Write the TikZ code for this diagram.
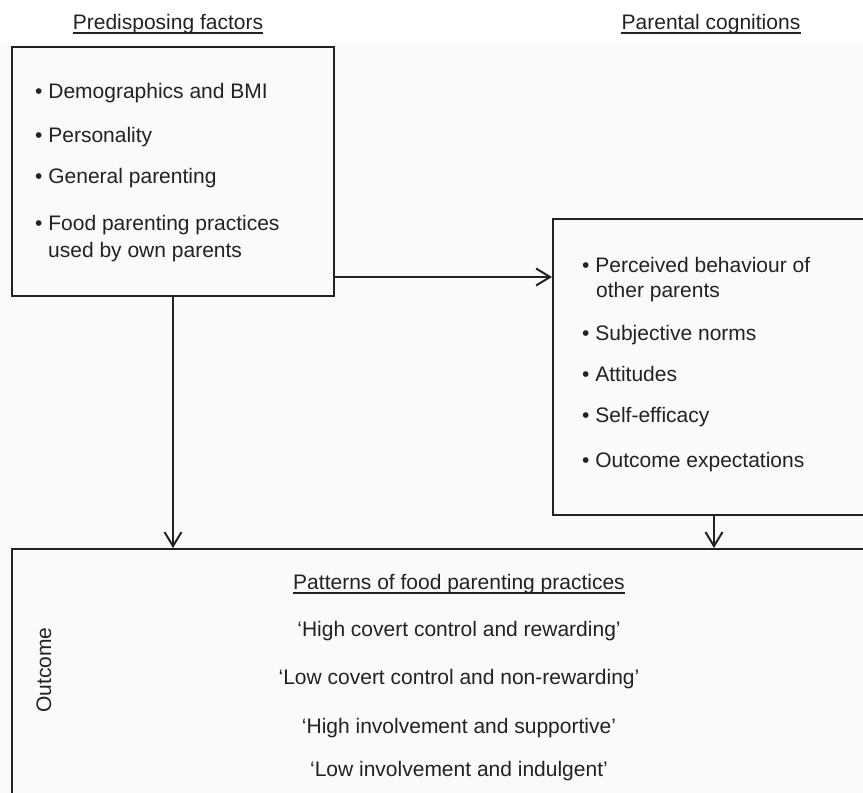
\documentclass[tikz,border=0pt]{standalone}
\usepackage{fontspec}
\setmainfont{Liberation Sans}
\usetikzlibrary{arrows.meta}
\definecolor{ink}{HTML}{222222}
\definecolor{bg}{HTML}{FAFAFA}
\begin{document}
\begin{tikzpicture}[x=1pt,y=-1pt,
  every node/.style={font=\fontsize{21}{25}\selectfont, text=ink, inner sep=0pt},
  boxframe/.style={draw=ink, line width=2pt, fill=none, anchor=north west},
  item/.style={anchor=base west},
  ctr/.style={anchor=base},
  arr/.style={draw=ink, line width=2pt, -{Straight Barb[length=14pt,width=17pt,line width=2pt]}},
  uline/.style={draw=ink, line width=1.4pt}]
\useasboundingbox (0,0) rectangle (863,793);
\fill[white] (0,0) rectangle (863,793);
\fill[bg] (0,45) rectangle (863,793);

% titles
\node[ctr] (t1) at (168,29) {Predisposing factors};
\draw[uline] ([yshift=-4pt]t1.base west) -- ([yshift=-4pt]t1.base east);
\node[ctr] (t2) at (711,29) {Parental cognitions};
\draw[uline] ([yshift=-4pt]t2.base west) -- ([yshift=-4pt]t2.base east);

% boxes
\node[boxframe, minimum width=322pt, minimum height=249pt] (pf) at (11,46) {};
\node[boxframe, minimum width=340pt, minimum height=296pt] (pc) at (552,218) {};
\node[boxframe, minimum width=900pt, minimum height=300pt] (oc) at (11,548) {};

% box 1 items
\node[item] (a1) at (35,98) {• Demographics and BMI};
\node[item] (a2) at (35,142) {• Personality};
\node[item] (a3) at (35,183) {• General parenting};
\node[item] (a4) at (35,230) {• Food parenting practices};
\node[item] (a5) at (48,257) {used by own parents};

% box 2 items
\node[item] (b1) at (582,272) {• Perceived behaviour of};
\node[item] (b2) at (596,297) {other parents};
\node[item] (b3) at (582,340) {• Subjective norms};
\node[item] (b4) at (582,381) {• Attitudes};
\node[item] (b5) at (582,422) {• Self-efficacy};
\node[item] (b6) at (582,467) {• Outcome expectations};

% box 3 texts
\node[ctr] (c0) at (459,589) {Patterns of food parenting practices};
\draw[uline] ([yshift=-4pt]c0.base west) -- ([yshift=-4pt]c0.base east);
\node[ctr] (c1) at (459,636) {‘High covert control and rewarding’};
\node[ctr] (c2) at (459,684) {‘Low covert control and non-rewarding’};
\node[ctr] (c3) at (459,733) {‘High involvement and supportive’};
\node[ctr] (c4) at (459,776) {‘Low involvement and indulgent’};
\node[rotate=90] (out) at (44,670) {Outcome};

% connectors
\coordinate (hy) at (0,277);
\coordinate (vx) at (714,0);
\draw[arr] (pf.east |- hy) -- (pc.west |- hy);
\draw[arr] (pf.south) -- (pf.south |- oc.north);
\draw[arr] (pc.south -| vx) -- (oc.north -| vx);
\end{tikzpicture}
\end{document}
